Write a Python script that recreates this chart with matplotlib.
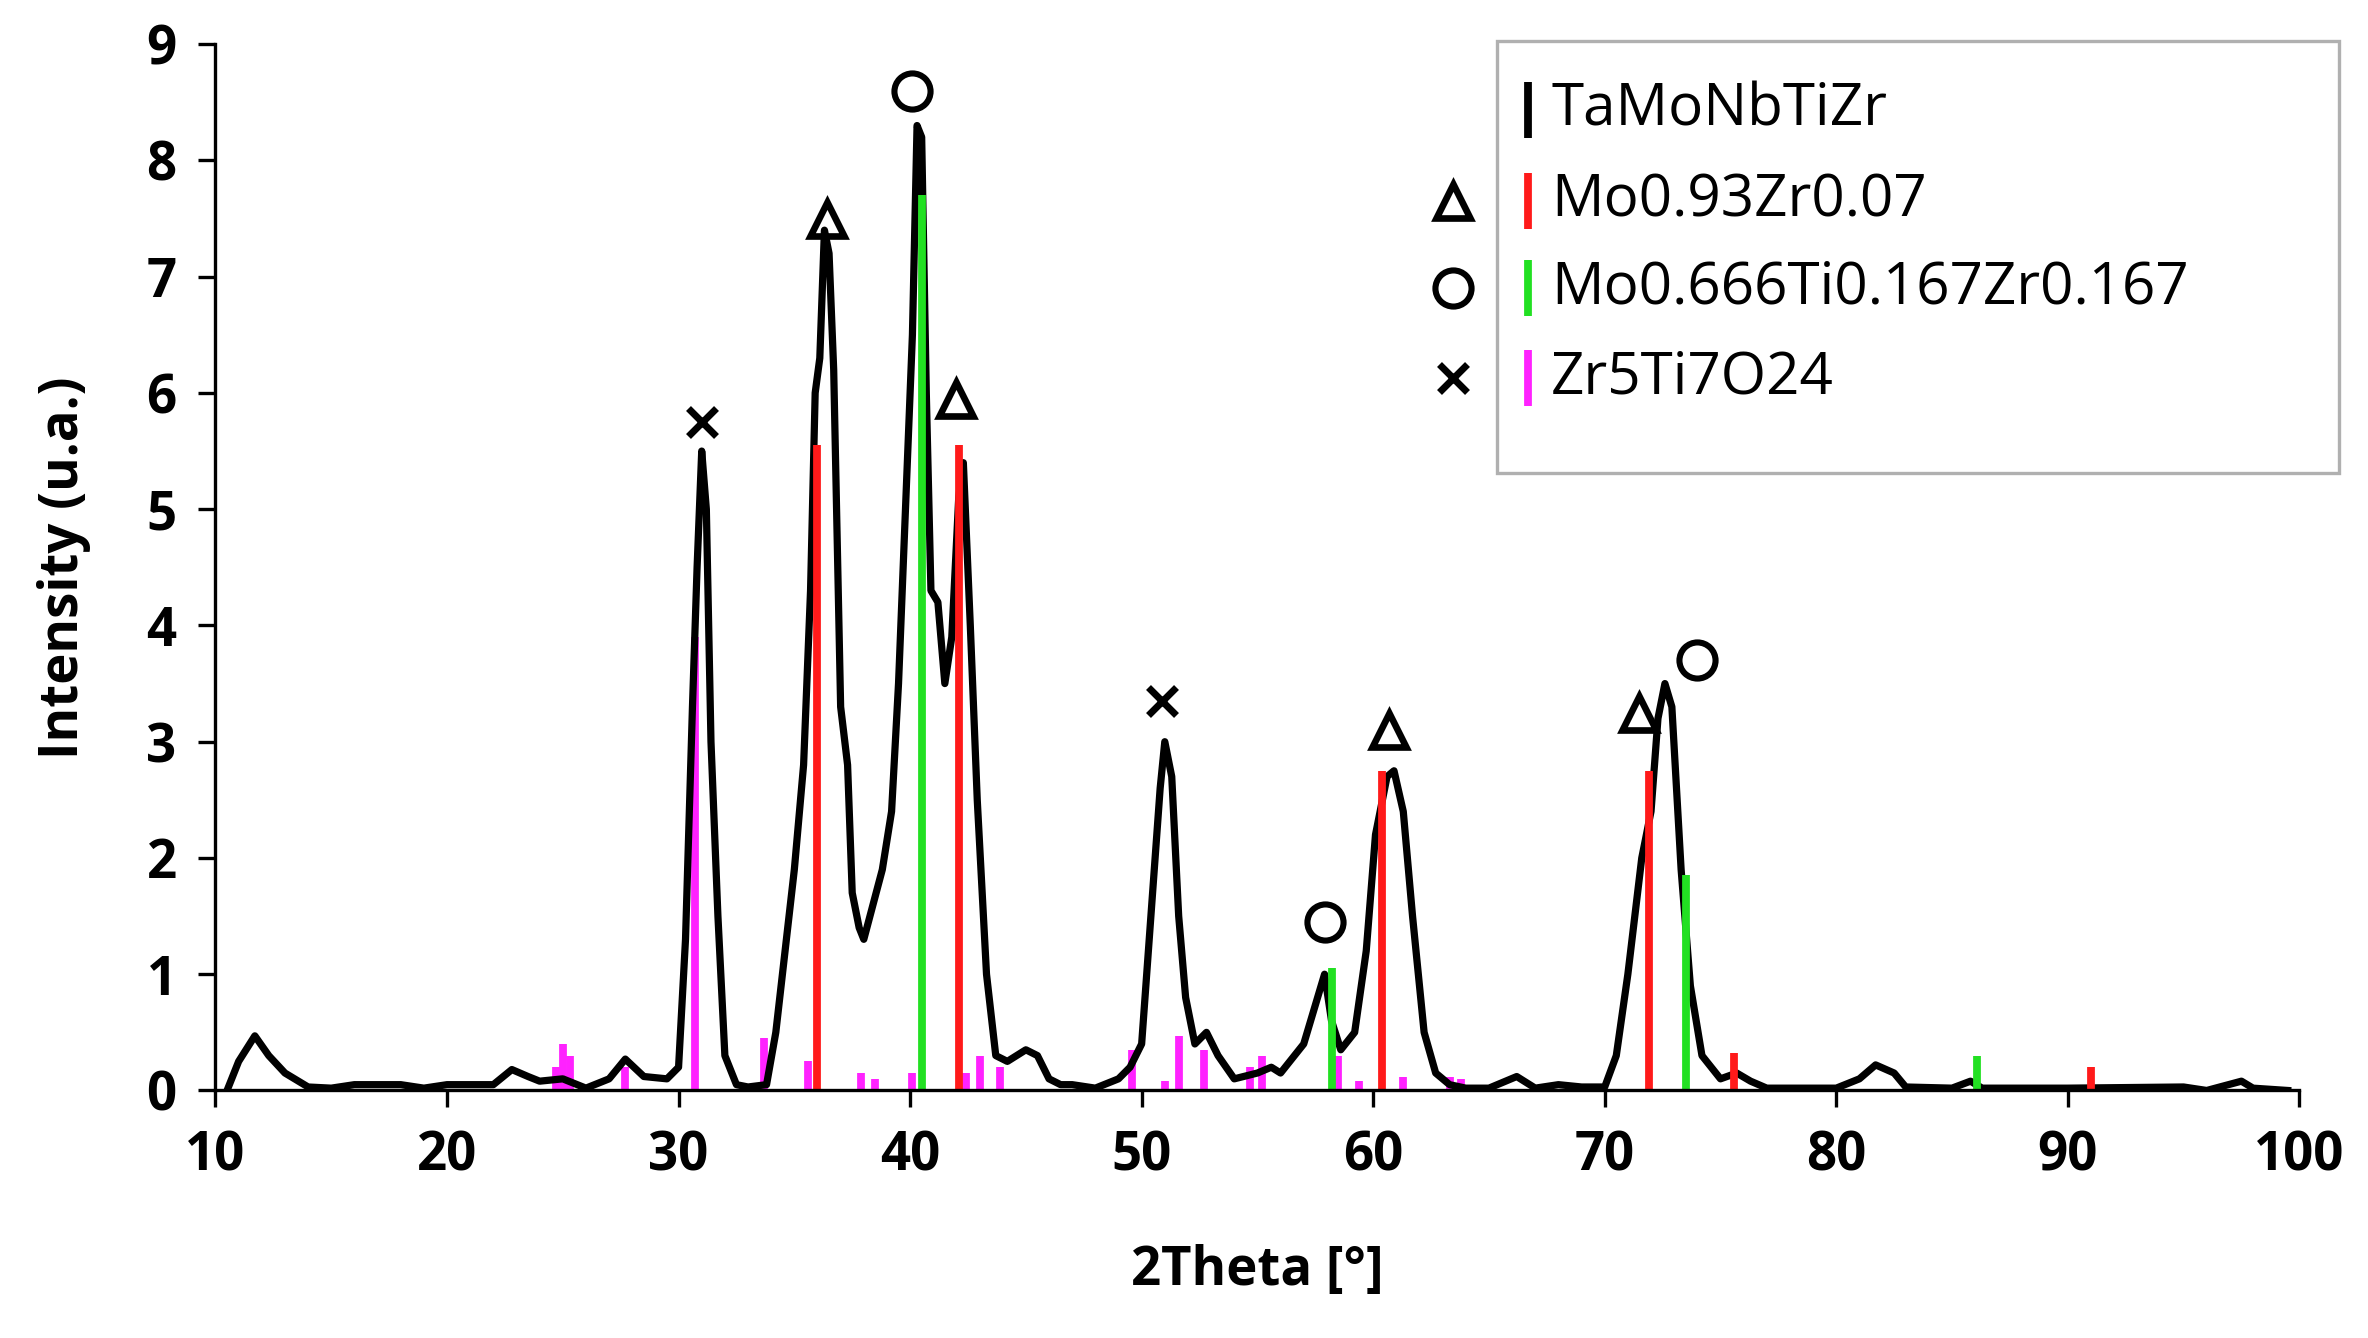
import numpy as np
import matplotlib
matplotlib.use('Agg')
import matplotlib.pyplot as plt
from matplotlib.patches import Rectangle

plt.rcParams['font.family'] = ['Open Sans', 'DejaVu Sans']

# measured pattern (traced)
two_theta = [10.5, 11, 11.7, 12.3, 13, 14, 15, 16, 18, 19, 20, 22, 22.8, 23.5, 24, 25, 26, 27, 27.7, 28.5, 29.5,
             30, 30.3, 30.6, 30.8, 31.0, 31.2, 31.4, 31.7, 32, 32.5, 33, 33.8, 34.2, 34.6, 35, 35.4, 35.7, 35.9,
             36.1, 36.3, 36.5, 36.7, 37, 37.3, 37.5, 37.8, 38, 38.4, 38.8, 39.2, 39.5, 39.8, 40.1, 40.3, 40.5,
             40.7, 40.9, 41.2, 41.5, 41.8, 42.1, 42.3, 42.6, 42.9, 43.3, 43.7, 44.2, 45, 45.5, 46, 46.5, 47, 48,
             49, 49.5, 50, 50.4, 50.8, 51, 51.3, 51.6, 51.9, 52.3, 52.8, 53.3, 54, 55, 55.6, 56, 57, 57.6, 57.9,
             58.2, 58.6, 59.2, 59.7, 60.1, 60.6, 60.9, 61.3, 61.7, 62.2, 62.7, 63.3, 64, 65, 66.2, 67, 68, 69, 70,
             70.5, 71, 71.6, 72, 72.3, 72.6, 72.9, 73.3, 73.7, 74.2, 75, 75.7, 76.3, 77, 80, 81, 81.7, 82.5, 83,
             85, 85.8, 86.3, 90, 95, 96, 97.5, 98, 99.5]
intensity = [0, 0.25, 0.47, 0.3, 0.15, 0.03, 0.02, 0.05, 0.05, 0.02, 0.05, 0.05, 0.18, 0.12, 0.08, 0.1, 0.02, 0.1,
             0.27, 0.12, 0.1, 0.2, 1.3, 3.3, 4.5, 5.5, 5.0, 3.0, 1.5, 0.3, 0.05, 0.03, 0.05, 0.5, 1.2, 1.9, 2.8,
             4.3, 6.0, 6.3, 7.4, 7.2, 6.2, 3.3, 2.8, 1.7, 1.4, 1.3, 1.6, 1.9, 2.4, 3.5, 5.0, 6.5, 8.3, 8.2, 6.0,
             4.3, 4.2, 3.5, 3.9, 5.1, 5.4, 4.0, 2.5, 1.0, 0.3, 0.25, 0.35, 0.3, 0.1, 0.05, 0.05, 0.02, 0.1, 0.2,
             0.4, 1.5, 2.6, 3.0, 2.7, 1.5, 0.8, 0.4, 0.5, 0.3, 0.1, 0.15, 0.2, 0.15, 0.4, 0.8, 1.0, 0.6, 0.35,
             0.5, 1.2, 2.2, 2.7, 2.75, 2.4, 1.5, 0.5, 0.15, 0.05, 0.02, 0.02, 0.12, 0.02, 0.05, 0.03, 0.03, 0.3,
             1.0, 2.0, 2.4, 3.2, 3.5, 3.3, 1.9, 0.9, 0.3, 0.1, 0.15, 0.08, 0.02, 0.02, 0.1, 0.22, 0.15, 0.03,
             0.02, 0.08, 0.02, 0.02, 0.03, 0.0, 0.08, 0.02, 0]

# reference patterns
mozr_pos = [36.0, 42.1, 60.4, 71.9, 75.6, 91.0]
mozr_int = [5.55, 5.55, 2.75, 2.75, 0.32, 0.2]
motizr_pos = [40.5, 58.2, 73.5, 86.1]
motizr_int = [7.7, 1.05, 1.85, 0.3]
zrtio_pos = [24.7, 25.0, 25.3, 27.7, 30.7, 33.7, 35.6, 37.9, 38.5, 40.1, 42.4, 43.0, 43.9, 49.6, 51.0, 51.6,
             52.7, 54.7, 55.2, 58.5, 59.4, 61.3, 63.3, 63.8, 83.6]
zrtio_int = [0.2, 0.4, 0.3, 0.2, 3.9, 0.45, 0.25, 0.15, 0.1, 0.15, 0.15, 0.3, 0.2, 0.35, 0.08, 0.47, 0.35,
             0.2, 0.3, 0.3, 0.08, 0.12, 0.12, 0.1, 0.05]

# peak annotations
cross_x, cross_y = [31.0, 50.9], [5.75, 3.35]
tri_x, tri_y = [36.4, 42.0, 60.7, 71.5], [7.5, 5.95, 3.1, 3.25]
circ_x, circ_y = [40.1, 57.9, 74.0], [8.6, 1.45, 3.7]

legend_labels = ['TaMoNbTiZr', 'Mo0.93Zr0.07', 'Mo0.666Ti0.167Zr0.167', 'Zr5Ti7O24']
legend_colors = ['black', '#ff1a1a', '#22e022', '#ff22ff']

fig = plt.figure(figsize=(11.84, 6.69), dpi=200)
ax = fig.add_axes([0.091, 0.185, 0.88, 0.782])

ax.vlines(zrtio_pos, -0.08, zrtio_int, colors=legend_colors[3], lw=2.8)
ax.plot(two_theta, intensity, color='black', lw=2.6)
ax.vlines(mozr_pos, -0.08, mozr_int, colors=legend_colors[1], lw=2.8)
ax.vlines(motizr_pos, -0.08, motizr_int, colors=legend_colors[2], lw=2.8)

ax.plot(cross_x, cross_y, 'x', color='black', ms=10, mew=2.5, clip_on=False)
ax.plot(tri_x, tri_y, '^', mfc='none', mec='black', ms=12, mew=2.4, clip_on=False)
ax.plot(circ_x, circ_y, 'o', mfc='none', mec='black', ms=13, mew=2.2, clip_on=False)

ax.set_xlim(10, 100)
ax.set_ylim(0, 9)
ax.set_xticks(range(10, 101, 10))
ax.set_yticks(range(0, 10))
for s in ['top', 'right']:
    ax.spines[s].set_visible(False)
for s in ['left', 'bottom']:
    ax.spines[s].set_linewidth(1.2)
ax.tick_params(direction='out', length=6, width=1.2, labelsize=19, pad=8)
for lab in ax.get_xticklabels() + ax.get_yticklabels():
    lab.set_fontweight('bold')
ax.set_xlabel('2Theta [°]', fontsize=19, fontweight='bold', labelpad=22)
ax.set_ylabel('Intensity (u.a.)', fontsize=19, fontweight='bold', labelpad=20)

# legend drawn by hand
ax.add_patch(Rectangle((0.615, 0.59), 0.404, 0.413, transform=ax.transAxes, fill=False,
                       ec='#b0b0b0', lw=1.2, clip_on=False))
rows = [0.937, 0.85, 0.767, 0.681]
for yy, lab, col in zip(rows, legend_labels, legend_colors):
    ax.plot([0.63], [yy], '|', color=col, ms=20, mew=2.8, transform=ax.transAxes, clip_on=False)
    ax.text(0.641, yy, lab, transform=ax.transAxes, fontsize=21, va='center', ha='left')
ax.plot([0.594], [rows[1]], '^', mfc='none', mec='black', ms=12, mew=2.4, transform=ax.transAxes, clip_on=False)
ax.plot([0.594], [rows[2]], 'o', mfc='none', mec='black', ms=13, mew=2.2, transform=ax.transAxes, clip_on=False)
ax.plot([0.594], [rows[3]], 'x', color='black', ms=10, mew=2.5, transform=ax.transAxes, clip_on=False)

fig.savefig('out.png', dpi=200)
